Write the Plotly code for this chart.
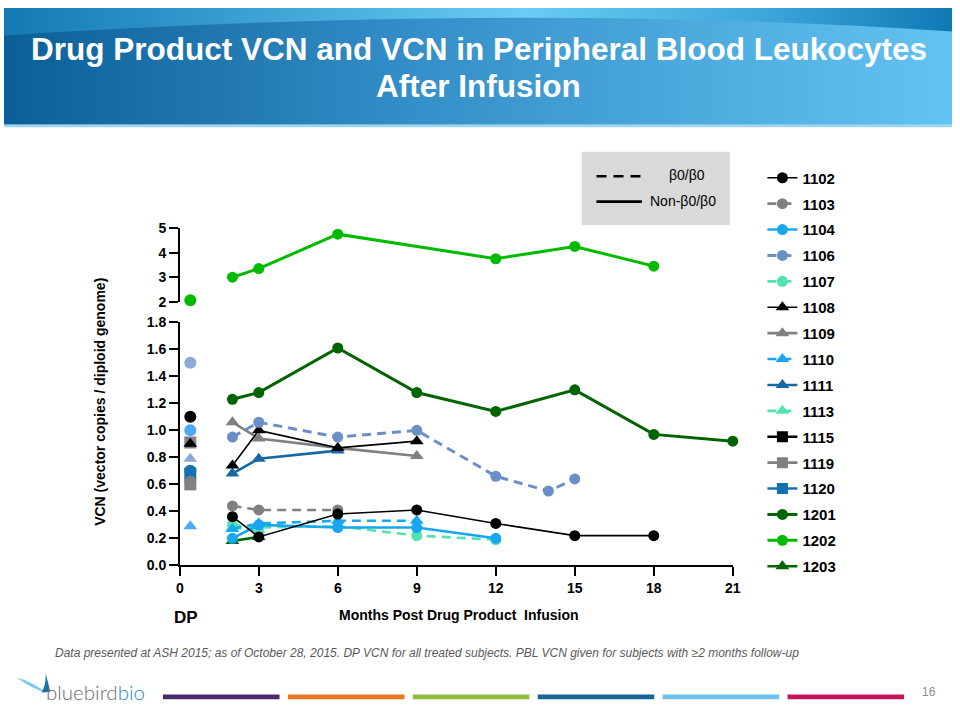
import base64
import plotly.graph_objects as go

W, H = 960, 720

# ------------------------------------------------------------------ data
subjects = ["1102", "1103", "1104", "1106", "1107", "1108", "1109", "1110",
            "1111", "1113", "1115", "1119", "1120", "1201", "1202", "1203"]

months_1102 = [2, 3, 6, 9, 12, 15, 18]
vcn_1102 = [0.36, 0.21, 0.38, 0.41, 0.31, 0.22, 0.22]
months_1103 = [2, 3, 6]
vcn_1103 = [0.44, 0.41, 0.41]
months_1104 = [2, 3, 6, 9, 12]
vcn_1104 = [0.20, 0.30, 0.28, 0.28, 0.20]
months_1106 = [2, 3, 6, 9, 12, 14, 15]
vcn_1106 = [0.95, 1.06, 0.95, 1.00, 0.66, 0.55, 0.64]
months_1107 = [2, 3, 6, 9, 12]
vcn_1107 = [0.30, 0.28, 0.29, 0.22, 0.19]
months_1108 = [2, 3, 6, 9]
vcn_1108 = [0.74, 1.00, 0.87, 0.92]
months_1109 = [2, 3, 6, 9]
vcn_1109 = [1.06, 0.94, 0.87, 0.81]
months_1110 = [2, 3, 6, 9]
vcn_1110 = [0.27, 0.31, 0.33, 0.33]
months_1111 = [2, 3, 6]
vcn_1111 = [0.68, 0.79, 0.85]
months_1113 = [2, 3]
vcn_1113 = [0.28, 0.26]
months_1115 = []
vcn_1115 = []
months_1119 = []
vcn_1119 = []
months_1120 = []
vcn_1120 = []
months_1201 = [2, 3, 6, 9, 12, 15, 18, 21]
vcn_1201 = [1.23, 1.28, 1.61, 1.28, 1.14, 1.30, 0.97, 0.92]
months_1202 = [2, 3, 6, 12, 15, 18]
vcn_1202 = [3.0, 3.35, 4.75, 3.75, 4.25, 3.45]
months_1203 = [2, 3]
vcn_1203 = [0.18, 0.21]

# drug product (DP) VCN
dp_month = 0.4
dp_subjects = ["1106", "1102", "1104", "1119", "1108", "1109", "1120", "1111",
               "1103", "1115", "1110", "1202"]
dp_vcn = [1.50, 1.10, 1.00, 0.91, 0.90, 0.79, 0.68, 0.70, 0.62, 0.60, 0.29, 2.06]

x_ticks = [0, 3, 6, 9, 12, 15, 18, 21]
y_low_ticks = [0.0, 0.2, 0.4, 0.6, 0.8, 1.0, 1.2, 1.4, 1.6, 1.8]
y_low_labels = ["0.0", "0.2", "0.4", "0.6", "0.8", "1.0", "1.2", "1.4", "1.6", "1.8"]
y_up_ticks = [2, 3, 4, 5]
y_up_labels = ["2", "3", "4", "5"]

series = {
    "1102": (months_1102, vcn_1102), "1103": (months_1103, vcn_1103),
    "1104": (months_1104, vcn_1104), "1106": (months_1106, vcn_1106),
    "1107": (months_1107, vcn_1107), "1108": (months_1108, vcn_1108),
    "1109": (months_1109, vcn_1109), "1110": (months_1110, vcn_1110),
    "1111": (months_1111, vcn_1111), "1113": (months_1113, vcn_1113),
    "1115": (months_1115, vcn_1115), "1119": (months_1119, vcn_1119),
    "1120": (months_1120, vcn_1120), "1201": (months_1201, vcn_1201),
    "1202": (months_1202, vcn_1202), "1203": (months_1203, vcn_1203),
}

# ------------------------------------------------------------------ styles
DASH = "9px,6px"
styles = {
    "1102": dict(color="#000000", symbol="circle", dash="solid", width=1.6),
    "1103": dict(color="#808080", symbol="circle", dash=DASH, width=2.6),
    "1104": dict(color="#18A6F0", symbol="circle", dash="solid", width=2.6),
    "1106": dict(color="#6B8FC7", symbol="circle", dash=DASH, width=3),
    "1107": dict(color="#52E3B0", symbol="circle", dash=DASH, width=2.6),
    "1108": dict(color="#000000", symbol="triangle-up", dash="solid", width=1.6),
    "1109": dict(color="#808080", symbol="triangle-up", dash="solid", width=2.6),
    "1110": dict(color="#18A6F0", symbol="triangle-up", dash=DASH, width=2.6),
    "1111": dict(color="#1468A4", symbol="triangle-up", dash="solid", width=2.6),
    "1113": dict(color="#52E3B0", symbol="triangle-up", dash=DASH, width=2.6),
    "1115": dict(color="#000000", symbol="square", dash="solid", width=2.6),
    "1119": dict(color="#808080", symbol="square", dash="solid", width=2.6),
    "1120": dict(color="#1470B0", symbol="square", dash="solid", width=2.6),
    "1201": dict(color="#006400", symbol="circle", dash="solid", width=3),
    "1202": dict(color="#00BB00", symbol="circle", dash="solid", width=3),
    "1203": dict(color="#006400", symbol="triangle-up", dash="solid", width=2.6),
}
dp_color = {"1106": "#8FAAD8", "1109": "#8FAAD8", "1104": "#4FA8F5",
            "1110": "#4FA8F5", "1115": "#808080", "1111": "#1470B0"}
dp_symbol = {"1111": "circle"}
upper = {"1202"}
draw_order = ["1203", "1113", "1107", "1110", "1104", "1103", "1102", "1111",
              "1109", "1108", "1106", "1201", "1202", "1115", "1119", "1120"]

FONT = "Arial, Liberation Sans, sans-serif"
MS = 11


def px_x(p):
    return p / W


def px_y(p):
    return 1 - p / H


fig = go.Figure()

for sid in draw_order:
    st = styles[sid]
    xs, ys = series[sid]
    fig.add_trace(go.Scatter(
        x=xs if xs else [None], y=ys if ys else [None],
        name=sid, legendgroup=sid, legendrank=subjects.index(sid) + 1,
        mode="lines+markers",
        line=dict(color=st["color"], width=st["width"], dash=st["dash"]),
        marker=dict(color=st["color"], symbol=st["symbol"],
                    size=MS + (1 if "triangle" in st["symbol"] else 0),
                    line=dict(width=0)),
        yaxis="y2" if sid in upper else "y",
        cliponaxis=False, showlegend=True,
    ))

for sid, v in zip(dp_subjects, dp_vcn):
    st = styles[sid]
    fig.add_trace(go.Scatter(
        x=[dp_month], y=[v], mode="markers", showlegend=False,
        marker=dict(color=dp_color.get(sid, st["color"]),
                    symbol=dp_symbol.get(sid, st["symbol"]),
                    size=MS + 1, line=dict(width=0)),
        yaxis="y2" if sid in upper else "y", cliponaxis=False,
    ))

tickfont = dict(family=FONT, size=14, color="#000000", weight="bold")
axis_common = dict(showline=True, linecolor="#000000", linewidth=1.6,
                   ticks="outside", ticklen=9, tickwidth=1.6, tickcolor="#000000",
                   showgrid=False, zeroline=False, tickfont=tickfont)

fig.update_layout(
    width=W, height=H, margin=dict(l=0, r=0, t=0, b=0),
    paper_bgcolor="#FFFFFF", plot_bgcolor="rgba(0,0,0,0)",
    xaxis=dict(domain=[px_x(178), px_x(738)], range=[0, 21], tickvals=x_ticks,
               anchor="y", **axis_common),
    yaxis=dict(domain=[px_y(570), px_y(321.5)], range=[0, 1.8], tickvals=y_low_ticks,
               ticktext=y_low_labels, anchor="x", **axis_common),
    yaxis2=dict(domain=[px_y(300.5), px_y(225)], range=[2, 5], tickvals=y_up_ticks,
                ticktext=y_up_labels, anchor="x", **axis_common),
    showlegend=True,
    legend=dict(x=px_x(768), y=px_y(157), xanchor="left", yanchor="top",
                traceorder="grouped", tracegroupgap=3.4, itemwidth=30,
                bgcolor="rgba(0,0,0,0)",
                font=dict(family=FONT, size=15, color="#000000", weight="bold")),
)

# ------------------------------------------------------------------ decorations
banner_svg = """<svg xmlns='http://www.w3.org/2000/svg' width='960' height='122' viewBox='0 0 960 122' preserveAspectRatio='none'>
<defs>
<linearGradient id='g' x1='0' y1='0' x2='1' y2='0'>
<stop offset='0' stop-color='#0B5F98'/>
<stop offset='0.45' stop-color='#3690C9'/>
<stop offset='1' stop-color='#62C4F2'/>
</linearGradient>
<linearGradient id='h' x1='0' y1='0' x2='1' y2='0'>
<stop offset='0' stop-color='#1479B4'/>
<stop offset='0.55' stop-color='#68CCF4'/>
<stop offset='0.8' stop-color='#3FA6DA'/>
<stop offset='1' stop-color='#0F79B4'/>
</linearGradient>
</defs>
<rect width='960' height='122' fill='url(#g)'/>
<path d='M0 0 H960 V24 Q 520 -6 0 28 Z' fill='url(#h)'/>
<rect y='119' width='960' height='3' fill='#9ED6F2'/>
</svg>"""

bird_svg = """<svg xmlns='http://www.w3.org/2000/svg' width='40' height='24' viewBox='0 0 40 24'>
<path d='M1 5 Q 15 8 32 21 Q 16 16 1 5 Z' fill='#7CC8EE'/>
<path d='M30 0 L35 19 L26 20 Q 31 11 30 0 Z' fill='#1B6EA6'/>
</svg>"""


def data_uri(svg):
    return "data:image/svg+xml;base64," + base64.b64encode(svg.encode()).decode()


fig.add_layout_image(dict(source=data_uri(banner_svg), xref="paper", yref="paper",
                          x=0, y=1, sizex=1, sizey=122 / H, xanchor="left",
                          yanchor="top", sizing="stretch", layer="below"))
fig.add_layout_image(dict(source=data_uri(bird_svg), xref="paper", yref="paper",
                          x=px_x(12), y=px_y(680), sizex=40 / W, sizey=24 / H,
                          xanchor="left", yanchor="top", sizing="stretch", layer="above"))

shapes = []
# legend box for genotype
shapes.append(dict(type="rect", xref="paper", yref="paper", x0=px_x(585), x1=px_x(735),
                   y0=px_y(222), y1=px_y(147), fillcolor="#D9D9D9", line=dict(width=0),
                   layer="below"))
shapes.append(dict(type="line", xref="paper", yref="paper", x0=px_x(600), x1=px_x(646),
                   y0=px_y(172), y1=px_y(172), line=dict(color="#000000", width=2.6, dash="10px,7px")))
shapes.append(dict(type="line", xref="paper", yref="paper", x0=px_x(600), x1=px_x(646),
                   y0=px_y(198), y1=px_y(198), line=dict(color="#000000", width=2.6)))
# footer colour bars
bar_colors = ["#4B2A6B", "#E87722", "#8DBB3C", "#1A6496", "#6EC1EA", "#C4145A"]
for i, c in enumerate(bar_colors):
    x0 = 161 + i * 126.5
    shapes.append(dict(type="rect", xref="paper", yref="paper", x0=px_x(x0), x1=px_x(x0 + 118),
                       y0=px_y(707), y1=px_y(702), fillcolor=c, line=dict(width=0)))
fig.update_layout(shapes=shapes)


def note(text, x, y, size, color="#000000", xanchor="center", **font_kw):
    return dict(text=text, x=px_x(x), y=px_y(y), xref="paper", yref="paper",
                showarrow=False, xanchor=xanchor, yanchor="middle", align="center",
                font=dict(family=font_kw.pop("family", FONT), size=size, color=color, **font_kw))


ann = [
    note("Drug Product VCN and VCN in Peripheral Blood Leukocytes", 481, 42, 31.5,
         "#FFFFFF", weight="bold"),
    note("After Infusion", 481, 80, 31.5, "#FFFFFF", weight="bold"),
    note("DP", 184, 623, 17, weight="bold"),
    note("Months Post Drug Product  Infusion", 461, 621, 14, weight="bold"),
    note("β0/β0", 692, 171, 14),
    note("Non-β0/β0", 688, 197, 14),
    note("Data presented at ASH 2015; as of October 28, 2015. DP VCN for all treated subjects. "
         "PBL VCN given for subjects with ≥2 months follow-up", 50, 660, 12, "#595959",
         xanchor="left", style="italic"),
    note("bluebird<span style='color:#1E8CCB'>bio</span>", 40, 700, 20.5, "#6E6E6E",
         xanchor="left", family="Lato, Open Sans, sans-serif", weight=300),
    note("16", 937, 700, 12, "#8C8C8C"),
]
yt = note("VCN (vector copies / diploid genome)", 97, 403, 14, weight="bold")
yt["textangle"] = -90
ann.append(yt)
fig.update_layout(annotations=ann)

fig.write_html("out.html")
